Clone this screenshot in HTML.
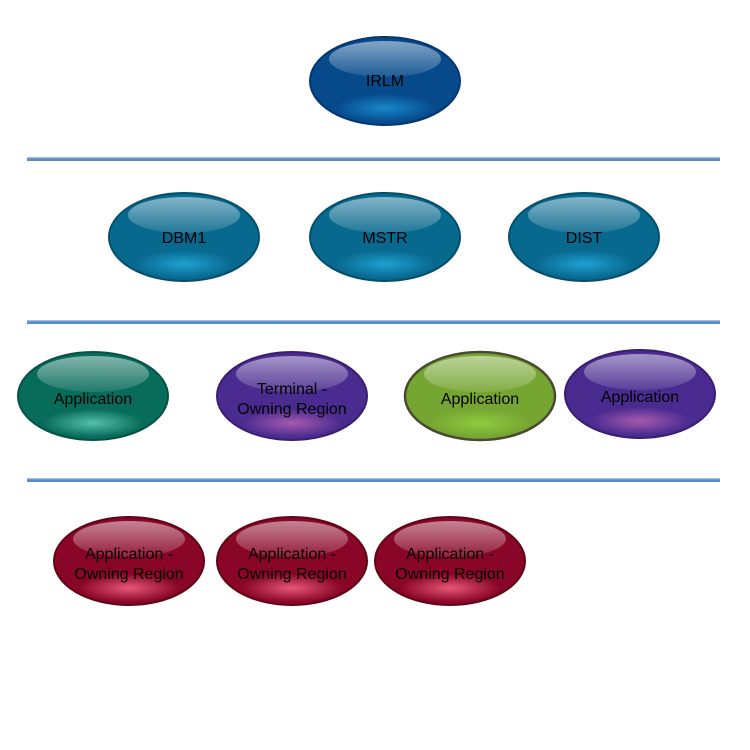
<!DOCTYPE html>
<html><head><meta charset="utf-8"><style>html,body{margin:0;padding:0;background:#fff;}svg{display:block}
text{font-family:"Liberation Sans",Arial,sans-serif;font-size:16px;fill:#000;}</style></head>
<body>
<svg width="750" height="750" viewBox="0 0 750 750" xmlns="http://www.w3.org/2000/svg" text-anchor="middle">
<defs>
<linearGradient id="hl" x1="0" y1="0" x2="0" y2="1">
<stop offset="0" stop-color="#fff" stop-opacity="0.5"/>
<stop offset="1" stop-color="#fff" stop-opacity="0.1"/>
</linearGradient>
<radialGradient id="gB"><stop offset="0" stop-color="#1a8fd0" stop-opacity="0.9"/><stop offset="1" stop-color="#1a8fd0" stop-opacity="0"/></radialGradient>
<radialGradient id="gT"><stop offset="0" stop-color="#20a6d8" stop-opacity="0.9"/><stop offset="1" stop-color="#20a6d8" stop-opacity="0"/></radialGradient>
<radialGradient id="gG"><stop offset="0" stop-color="#5ccab0" stop-opacity="0.9"/><stop offset="1" stop-color="#5ccab0" stop-opacity="0"/></radialGradient>
<radialGradient id="gP"><stop offset="0" stop-color="#b060b0" stop-opacity="0.9"/><stop offset="1" stop-color="#b060b0" stop-opacity="0"/></radialGradient>
<radialGradient id="gL"><stop offset="0" stop-color="#90d040" stop-opacity="0.9"/><stop offset="1" stop-color="#90d040" stop-opacity="0"/></radialGradient>
<radialGradient id="gR"><stop offset="0" stop-color="#f06080" stop-opacity="0.9"/><stop offset="1" stop-color="#f06080" stop-opacity="0"/></radialGradient>
</defs>

<g>
<rect x="27" y="157" width="693" height="4" fill="#5b8ac6"/><rect x="27" y="157" width="693" height="1.3" fill="#9cc0e6"/>
<rect x="27" y="320" width="693" height="4" fill="#5b8ac6"/><rect x="27" y="320" width="693" height="1.3" fill="#9cc0e6"/>
<rect x="27" y="478" width="693" height="4" fill="#5b8ac6"/><rect x="27" y="478" width="693" height="1.3" fill="#9cc0e6"/>
</g>

<g>
<ellipse cx="385" cy="81" rx="75" ry="44" fill="#064a8c" stroke="#043670" stroke-width="2"/>
<ellipse cx="385" cy="108" rx="50" ry="14" fill="url(#gB)"/>
<ellipse cx="385" cy="59" rx="56" ry="18" fill="url(#hl)"/>
<text x="385" y="86">IRLM</text>
</g>

<g>
<ellipse cx="184" cy="237" rx="75" ry="44" fill="#08698f" stroke="#054e6c" stroke-width="2"/>
<ellipse cx="184" cy="264" rx="50" ry="14" fill="url(#gT)"/>
<ellipse cx="184" cy="215" rx="56" ry="18" fill="url(#hl)"/>
<text x="184" y="243">DBM1</text>
</g>
<g>
<ellipse cx="385" cy="237" rx="75" ry="44" fill="#08698f" stroke="#054e6c" stroke-width="2"/>
<ellipse cx="385" cy="264" rx="50" ry="14" fill="url(#gT)"/>
<ellipse cx="385" cy="215" rx="56" ry="18" fill="url(#hl)"/>
<text x="385" y="243">MSTR</text>
</g>
<g>
<ellipse cx="584" cy="237" rx="75" ry="44" fill="#08698f" stroke="#054e6c" stroke-width="2"/>
<ellipse cx="584" cy="264" rx="50" ry="14" fill="url(#gT)"/>
<ellipse cx="584" cy="215" rx="56" ry="18" fill="url(#hl)"/>
<text x="584" y="243">DIST</text>
</g>

<g>
<ellipse cx="93" cy="396" rx="75" ry="44" fill="#076c5a" stroke="#055244" stroke-width="2"/>
<ellipse cx="93" cy="423" rx="50" ry="14" fill="url(#gG)"/>
<ellipse cx="93" cy="374" rx="56" ry="18" fill="url(#hl)"/>
<text x="93" y="404">Application</text>
</g>
<g>
<ellipse cx="292" cy="396" rx="75" ry="44" fill="#4a2b90" stroke="#3a1e70" stroke-width="2"/>
<ellipse cx="292" cy="423" rx="50" ry="14" fill="url(#gP)"/>
<ellipse cx="292" cy="374" rx="56" ry="18" fill="url(#hl)"/>
<text x="292" y="394">Terminal -</text>
<text x="292" y="414">Owning Region</text>
</g>
<g>
<ellipse cx="480" cy="396" rx="75" ry="44" fill="#76a632" stroke="#4a4a32" stroke-width="2.5"/>
<ellipse cx="480" cy="423" rx="50" ry="14" fill="url(#gL)"/>
<ellipse cx="480" cy="374" rx="56" ry="18" fill="url(#hl)"/>
<text x="480" y="404">Application</text>
</g>
<g>
<ellipse cx="640" cy="394" rx="75" ry="44" fill="#4a2b90" stroke="#3a1e70" stroke-width="2"/>
<ellipse cx="640" cy="421" rx="50" ry="14" fill="url(#gP)"/>
<ellipse cx="640" cy="372" rx="56" ry="18" fill="url(#hl)"/>
<text x="640" y="402">Application</text>
</g>

<g>
<ellipse cx="129" cy="561" rx="75" ry="44" fill="#8a0628" stroke="#600414" stroke-width="2"/>
<ellipse cx="129" cy="588" rx="50" ry="14" fill="url(#gR)"/>
<ellipse cx="129" cy="539" rx="56" ry="18" fill="url(#hl)"/>
<text x="129" y="559">Application -</text>
<text x="129" y="579">Owning Region</text>
</g>
<g>
<ellipse cx="292" cy="561" rx="75" ry="44" fill="#8a0628" stroke="#600414" stroke-width="2"/>
<ellipse cx="292" cy="588" rx="50" ry="14" fill="url(#gR)"/>
<ellipse cx="292" cy="539" rx="56" ry="18" fill="url(#hl)"/>
<text x="292" y="559">Application -</text>
<text x="292" y="579">Owning Region</text>
</g>
<g>
<ellipse cx="450" cy="561" rx="75" ry="44" fill="#8a0628" stroke="#600414" stroke-width="2"/>
<ellipse cx="450" cy="588" rx="50" ry="14" fill="url(#gR)"/>
<ellipse cx="450" cy="539" rx="56" ry="18" fill="url(#hl)"/>
<text x="450" y="559">Application -</text>
<text x="450" y="579">Owning Region</text>
</g>
</svg>
</body></html>
